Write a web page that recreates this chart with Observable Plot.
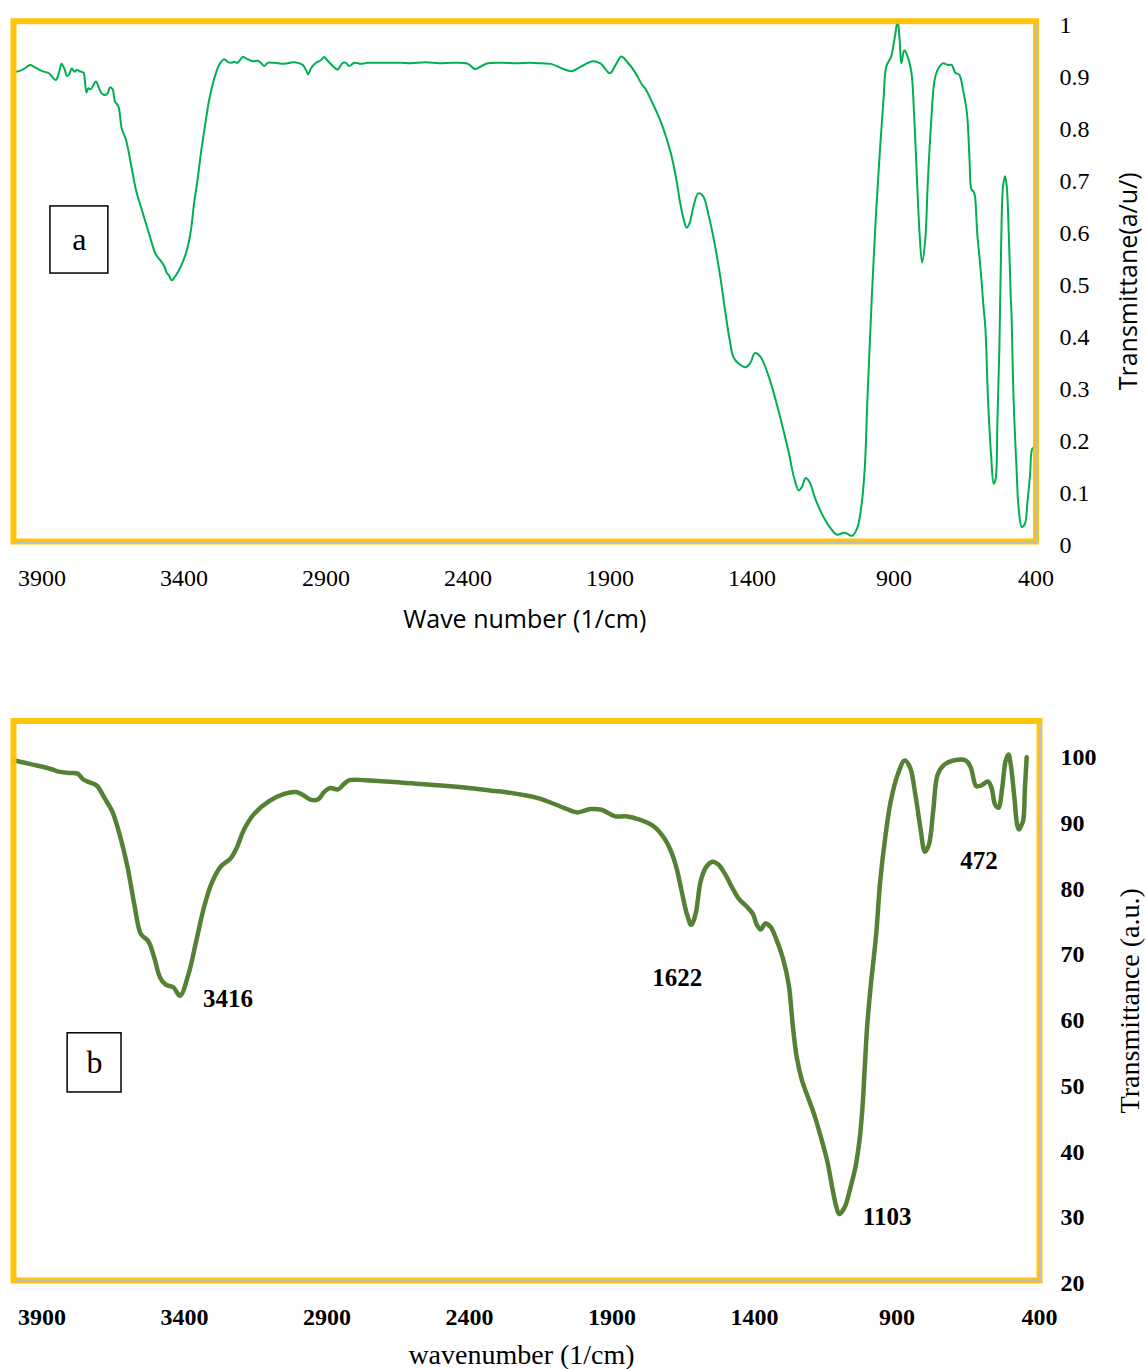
<!DOCTYPE html>
<html>
<head>
<meta charset="utf-8">
<script src="https://cdn.jsdelivr.net/npm/d3@7"></script>
<script src="https://cdn.jsdelivr.net/npm/@observablehq/plot@0.6"></script>
<style>
  html, body { margin: 0; padding: 0; background: #fff; }
  #chart-a, #chart-b { width: 1146px; }
  svg { display: block; }
</style>
</head>
<body>
<div id="chart-a"></div>
<div id="chart-b"></div>
<script>
// FTIR spectrum (a): [wavenumber (1/cm), transmittance (a/u)]
const spectrumA = [
  [3997,0.903],[3980,0.904],[3962,0.909],[3941,0.916],[3927,0.912],[3903,0.905],[3880,0.901],
  [3875,0.900],[3851,0.887],[3839,0.903],[3831,0.918],[3821,0.909],[3812,0.895],[3804,0.898],
  [3795,0.909],[3786,0.903],[3777,0.906],[3763,0.903],[3753,0.901],[3749,0.887],[3743,0.863],
  [3737,0.871],[3728,0.869],[3719,0.877],[3710,0.884],[3700,0.873],[3692,0.863],[3681,0.858],
  [3669,0.861],[3660,0.873],[3651,0.869],[3643,0.846],[3631,0.837],[3619,0.794],[3604,0.772],
  [3587,0.727],[3569,0.676],[3545,0.632],[3522,0.590],[3499,0.552],[3481,0.539],[3469,0.529],
  [3461,0.517],[3452,0.511],[3443,0.502],[3434,0.507],[3422,0.517],[3405,0.536],[3389,0.561],
  [3375,0.600],[3364,0.651],[3352,0.695],[3340,0.747],[3326,0.798],[3311,0.849],[3293,0.890],
  [3276,0.916],[3258,0.927],[3246,0.922],[3234,0.920],[3223,0.922],[3211,0.920],[3193,0.931],
  [3176,0.927],[3158,0.923],[3141,0.924],[3129,0.920],[3117,0.914],[3105,0.920],[3082,0.920],
  [3047,0.918],[3012,0.921],[2982,0.916],[2970,0.906],[2962,0.898],[2953,0.909],[2935,0.920],
  [2918,0.925],[2906,0.931],[2894,0.924],[2876,0.914],[2859,0.907],[2841,0.920],[2830,0.920],
  [2818,0.914],[2800,0.920],[2777,0.918],[2753,0.920],[2718,0.920],[2683,0.920],[2636,0.920],
  [2600,0.919],[2550,0.921],[2500,0.919],[2450,0.920],[2400,0.918],[2375,0.908],[2355,0.913],
  [2330,0.919],[2280,0.920],[2230,0.919],[2180,0.920],[2140,0.919],[2108,0.918],[2068,0.909],
  [2034,0.904],[2001,0.913],[1961,0.923],[1934,0.919],[1900,0.900],[1880,0.916],[1860,0.932],
  [1840,0.922],[1813,0.903],[1786,0.877],[1776,0.871],[1753,0.846],[1719,0.804],[1686,0.747],
  [1666,0.695],[1653,0.651],[1639,0.616],[1630,0.603],[1619,0.613],[1606,0.644],[1589,0.669],
  [1572,0.664],[1552,0.625],[1532,0.574],[1512,0.510],[1492,0.434],[1479,0.389],[1465,0.354],
  [1445,0.341],[1422,0.335],[1405,0.344],[1390,0.362],[1370,0.355],[1338,0.312],[1305,0.248],
  [1271,0.172],[1251,0.121],[1235,0.098],[1224,0.105],[1211,0.122],[1197,0.114],[1177,0.082],
  [1151,0.050],[1124,0.026],[1101,0.013],[1074,0.017],[1047,0.011],[1030,0.025],[1016,0.063],
  [1003,0.140],[994,0.268],[986,0.370],[978,0.470],[963,0.632],[950,0.747],[937,0.849],
  [927,0.913],[910,0.932],[897,0.970],[887,1.000],[880,0.964],[874,0.919],[864,0.944],
  [854,0.935],[839,0.903],[830,0.830],[821,0.721],[810,0.593],[801,0.536],[790,0.580],
  [781,0.689],[770,0.798],[757,0.887],[744,0.909],[728,0.919],[710,0.916],[697,0.916],
  [684,0.901],[670,0.897],[657,0.868],[643,0.823],[634,0.734],[627,0.676],[620,0.673],
  [615,0.664],[607,0.593],[596,0.529],[585,0.453],[578,0.408],[569,0.274],[558,0.165],
  [549,0.111],[542,0.121],[536,0.229],[529,0.370],[523,0.560],[516,0.683],[509,0.702],
  [503,0.683],[496,0.593],[489,0.472],[486,0.434],[479,0.274],[469,0.146],[461,0.063],
  [450,0.028],[439,0.034],[430,0.076],[421,0.127],[413,0.178],[404,0.181]
];

// FTIR spectrum (b): [wavenumber (1/cm), transmittance (a.u.)]
const spectrumB = [
  [3997,99.1],[3936,98.5],[3869,97.8],[3842,97.4],[3802,97.2],[3775,97.1],[3755,96.2],
  [3735,95.8],[3708,95.3],[3681,93.4],[3654,91.4],[3628,87.9],[3600,82.9],[3574,76.7],
  [3553,72.7],[3527,71.6],[3506,69.1],[3486,66.1],[3466,65.0],[3439,64.6],[3416,63.3],
  [3386,66.6],[3359,71.6],[3332,76.7],[3305,80.4],[3272,83.0],[3238,84.2],[3217,85.8],
  [3191,88.6],[3157,90.9],[3103,92.9],[3050,94.0],[3009,94.3],[2983,93.8],[2956,93.1],
  [2931,93.2],[2908,94.4],[2888,94.9],[2861,94.7],[2841,95.5],[2821,96.1],[2767,96.1],
  [2633,95.7],[2499,95.3],[2378,94.8],[2324,94.5],[2297,94.4],[2163,93.4],[2069,91.9],
  [2022,91.2],[1975,91.7],[1937,91.6],[1889,90.6],[1852,90.6],[1803,90.1],[1754,89.1],
  [1717,87.3],[1693,85.3],[1674,82.8],[1656,79.3],[1637,75.7],[1622,74.1],[1607,75.7],
  [1589,80.7],[1571,82.8],[1548,83.7],[1528,83.3],[1503,81.8],[1479,79.8],[1454,78.0],
  [1430,77.0],[1405,75.7],[1393,74.2],[1378,73.4],[1362,74.3],[1344,73.8],[1326,72.2],
  [1301,69.1],[1280,65.0],[1265,58.5],[1252,54.0],[1234,50.5],[1216,48.3],[1191,45.3],
  [1167,41.8],[1145,38.2],[1127,34.1],[1114,31.4],[1103,30.1],[1083,31.2],[1066,33.7],
  [1046,37.2],[1032,41.2],[1022,45.8],[1013,52.5],[1005,58.5],[994,64.0],[973,72.7],
  [959,80.7],[940,87.8],[922,92.9],[897,97.0],[873,99.1],[854,98.0],[836,94.0],
  [818,88.9],[802,85.2],[788,86.3],[773,91.4],[757,97.0],[733,98.5],[702,99.1],
  [659,99.1],[641,98.0],[622,95.2],[604,95.3],[581,95.9],[568,94.9],[556,92.4],
  [544,91.9],[531,94.9],[519,99.0],[509,100.0],[501,98.5],[488,93.4],[478,89.2],
  [472,88.6],[464,89.2],[457,90.0],[451,95.0],[445,99.6]
];

// Marked absorption bands of spectrum (b)
const bandsB = [3416, 1622, 1103, 472];

// Axis ticks
const xTicks = [3900, 3400, 2900, 2400, 1900, 1400, 900, 400];
const yTicksA = [0, 0.1, 0.2, 0.3, 0.4, 0.5, 0.6, 0.7, 0.8, 0.9, 1];
const yTicksB = [20, 30, 40, 50, 60, 70, 80, 90, 100];

// Panel tags and the data extent of their boxes
const tagA = {label: "a", x1: 3870, x2: 3666, y1: 0.515, y2: 0.644};
const tagB = {label: "b", x1: 3810, x2: 3621, y1: 48.6, y2: 57.6};

const FRAME = "#FFC000";
const SHADOW = "#BDBDBD";
const SERIF = "Liberation Serif, Times New Roman, serif";
const SANS = "Open Sans, sans-serif";
const wn = d => d[0];
const tr = d => d[1];

function tagMarks(tag, fontSize) {
  return [
    Plot.rect([tag], {x1: "x1", x2: "x2", y1: "y1", y2: "y2", fill: "white", stroke: "black", strokeWidth: 1.5}),
    Plot.text([tag], {
      x: d => (d.x1 + d.x2) / 2, y: d => (d.y1 + d.y2) / 2, text: "label",
      fontFamily: SERIF, fontSize, fill: "black"
    })
  ];
}

// Panel (a)
const chartA = Plot.plot({
  width: 1146,
  height: 650,
  marginTop: 20.7,
  marginBottom: 109,
  marginLeft: 13,
  marginRight: 110.5,
  style: {background: "white", overflow: "visible"},
  x: {domain: [4000, 400], label: null},
  y: {domain: [0, 1], label: null},
  marks: [
    Plot.axisX(xTicks, {
      anchor: "bottom", tickSize: 0, tickPadding: 27, label: null,
      fontFamily: SERIF, fontSize: 24, tickFormat: d => String(d)
    }),
    Plot.axisY(yTicksA, {
      anchor: "right", tickSize: 0, tickPadding: 23.5, dy: 4, label: null,
      fontFamily: SERIF, fontSize: 24, tickFormat: d => String(+d.toFixed(1))
    }),
    ...tagMarks(tagA, 32),
    Plot.line(spectrumA, {x: wn, y: tr, stroke: "#00B050", strokeWidth: 2, curve: "catmull-rom"}),
    Plot.frame({stroke: FRAME, strokeWidth: 6, strokeOpacity: 0.95}),
    Plot.ruleX([400], {stroke: SHADOW, strokeWidth: 2.2, insetTop: 3, dx: 0.5}),
    Plot.ruleY([0], {stroke: SHADOW, strokeWidth: 2.2, insetLeft: 3, insetRight: -2, dy: 0.5}),
    Plot.text(["Wave number (1/cm)"], {
      frameAnchor: "bottom", dy: 86, fontFamily: SANS, fontSize: 25, fill: "black"
    }),
    Plot.text(["Transmittane(a/u/)"], {
      frameAnchor: "right", textAnchor: "middle", rotate: -90, dx: 93,
      fontFamily: SANS, fontSize: 25, fill: "black"
    })
  ]
});
document.getElementById("chart-a").append(chartA);

// Panel (b)
const bandLabelOffset = {3416: [48, 3], 1622: [-14, 53], 1103: [48, 3], 472: [-40, 32]};
const bandMarks = bandsB.map(b => {
  const point = spectrumB.find(d => d[0] === b);
  const [dx, dy] = bandLabelOffset[b];
  return Plot.text([point], {
    x: wn, y: tr, text: d => String(d[0]), dx, dy,
    fontFamily: SERIF, fontSize: 25, fontWeight: "bold", fill: "black"
  });
});

const chartB = Plot.plot({
  width: 1146,
  height: 719,
  marginTop: 70.5,
  marginBottom: 89,
  marginLeft: 13,
  marginRight: 107,
  style: {background: "white", overflow: "visible"},
  x: {domain: [4000, 400], label: null},
  y: {domain: [20, 105.1], label: null},
  marks: [
    Plot.axisX(xTicks, {
      anchor: "bottom", tickSize: 0, tickPadding: 27, label: null,
      fontFamily: SERIF, fontSize: 24, fontWeight: "bold", tickFormat: d => String(d)
    }),
    Plot.axisY(yTicksB, {
      anchor: "right", tickSize: 0, tickPadding: 21, dy: 3, label: null,
      fontFamily: SERIF, fontSize: 24, fontWeight: "bold", tickFormat: d => String(d)
    }),
    ...tagMarks(tagB, 32),
    Plot.line(spectrumB, {x: wn, y: tr, stroke: "#548235", strokeWidth: 4.5, curve: "catmull-rom"}),
    Plot.frame({stroke: FRAME, strokeWidth: 6, strokeOpacity: 0.95}),
    Plot.ruleX([400], {stroke: SHADOW, strokeWidth: 2.2, insetTop: 3, dx: 0.5}),
    Plot.ruleY([20], {stroke: SHADOW, strokeWidth: 2.2, insetLeft: 3, insetRight: -2, dy: 0.5}),
    ...bandMarks,
    Plot.text(["wavenumber (1/cm)"], {
      frameAnchor: "bottom", dx: -5, dy: 83, fontFamily: SERIF, fontSize: 28, fill: "black"
    }),
    Plot.text(["Transmittance (a.u.)"], {
      frameAnchor: "right", textAnchor: "middle", rotate: -90, dx: 91,
      fontFamily: SERIF, fontSize: 28, fill: "black"
    })
  ]
});
document.getElementById("chart-b").append(chartB);
</script>
</body>
</html>
